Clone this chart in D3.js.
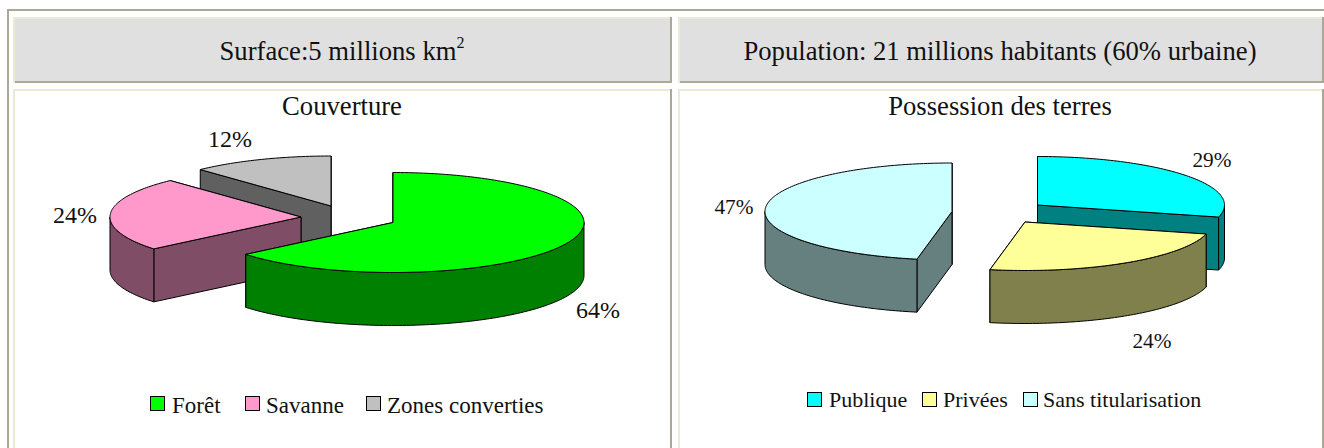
<!DOCTYPE html>
<html><head><meta charset="utf-8">
<script src="https://cdn.jsdelivr.net/npm/d3@7"></script>
<style>html,body{margin:0;padding:0;background:#fff;overflow:hidden}svg{display:block}text{font-family:"Liberation Serif",serif;fill:#111}</style>
</head><body><svg id="c" width="1324" height="448"></svg>
<script>
const leftCategories=["Forêt","Savanne","Zones converties"];
const leftValues=[64,24,12];
const leftLabels=["64%","24%","12%"];
const rightCategories=["Publique","Privées","Sans titularisation"];
const rightValues=[29,24,47];
const rightLabels=["29%","24%","47%"];
const topColours=[["#00ff00","#ff99cc","#c0c0c0"],["#00ffff","#ffff99","#ccffff"]];
const sideColours=[["#008000","#804d66","#606060"],["#008080","#80804d","#668080"]];
const DARK="#aca899",LIGHT="#ece9d8";
const svg=d3.select("#c");

function rect(x,y,w,h,f){svg.append("rect").attr("x",x).attr("y",y).attr("width",w).attr("height",h).attr("fill",f);}
rect(7,9,1317,2,DARK);rect(7,9,2,439,DARK);
function cell(x0,y0,x1,y1,fill){
  rect(x0,y0,x1-x0,y1-y0,DARK);
  rect(x0,y0,x1-x0-2,2,LIGHT);
  rect(x0,y0,2,y1-y0,LIGHT);
  rect(x0+2,y0+2,x1-x0-4,y1-y0-4,fill);
}
cell(13,17,672,83,"#e0e0e0");
cell(678,17,1324,83,"#e0e0e0");
cell(13,89,672,460,"#ffffff");
cell(678,89,1324,460,"#ffffff");

function txt(x,y,s,size,anchor){return svg.append("text").attr("x",x).attr("y",y).attr("font-size",size).attr("text-anchor",anchor||"middle").text(s);}
const h1=txt(342,59.5,"Surface:5 millions km",26.67);
h1.append("tspan").attr("dy",-12).attr("font-size",16).text("2");
txt(1000,59.5,"Population: 21 millions habitants (60% urbaine)",26.67);
txt(342,115,"Couverture",26.67);
txt(1000,115,"Possession des terres",26.67);

const pie=d3.pie().sort(null).value(d=>d);
const DEPTH=53;
function drawPie(values,panel,rx,ry,centres,order){
  const arcs=pie(values);
  const g=svg.append("g").attr("stroke","#000").attr("stroke-width",1).attr("stroke-linejoin","round");
  const line=d3.line();
  order.forEach(i=>{
    const a=arcs[i],[cx,cy]=centres[i];
    const P=(t,dz=0)=>[cx+rx*Math.sin(t),cy-ry*Math.cos(t)+dz];
    const side=sideColours[panel][i],top=topColours[panel][i];
    [a.startAngle,a.endAngle].sort((u,v)=>P(u)[1]-P(v)[1]).forEach(t=>{
      g.append("path").attr("fill",side)
       .attr("d",line([[cx,cy],P(t),P(t,DEPTH),[cx,cy+DEPTH]])+"Z");
    });
    const s=Math.max(a.startAngle,Math.PI/2),e=Math.min(a.endAngle,3*Math.PI/2);
    if(e>s){
      const ts=d3.range(s,e,0.02).concat([e]);
      const pts=ts.map(t=>P(t)).concat(ts.slice().reverse().map(t=>P(t,DEPTH)));
      g.append("path").attr("fill",side).attr("d",line(pts)+"Z");
    }
    const ts=d3.range(a.startAngle,a.endAngle,0.02).concat([a.endAngle]);
    g.append("path").attr("fill",top).attr("d",line([[cx,cy]].concat(ts.map(t=>P(t))))+"Z");
  });
}
drawPie(leftValues,0,191,50,[[393,222.5],[301,217],[331,206]],[2,1,0]);
drawPie(rightValues,1,187,48.5,[[1037.5,205],[1025,222],[952,211.5]],[0,1,2]);

const labelPos=[[[598,318],[75,222.5],[230,147]],[[1212,167],[1152,348],[734,214]]];
const labelSize=[24,21.3];
[leftLabels,rightLabels].forEach((ls,p)=>ls.forEach((s,i)=>txt(labelPos[p][i][0],labelPos[p][i][1],s,labelSize[p])));

function legend(cats,panel,swatchX,textX,y,base,size){
  cats.forEach((c,i)=>{
    svg.append("rect").attr("x",swatchX[i]+.5).attr("y",y+.5).attr("width",14).attr("height",14)
      .attr("fill",topColours[panel][i]).attr("stroke","#000");
    txt(textX[i],base,c,size,"start");
  });
}
legend(leftCategories,0,[150,245,366],[172,266,387],396,412.5,23);
legend(rightCategories,1,[807,922,1023],[829,943,1043],392,407,22);
</script></body></html>
